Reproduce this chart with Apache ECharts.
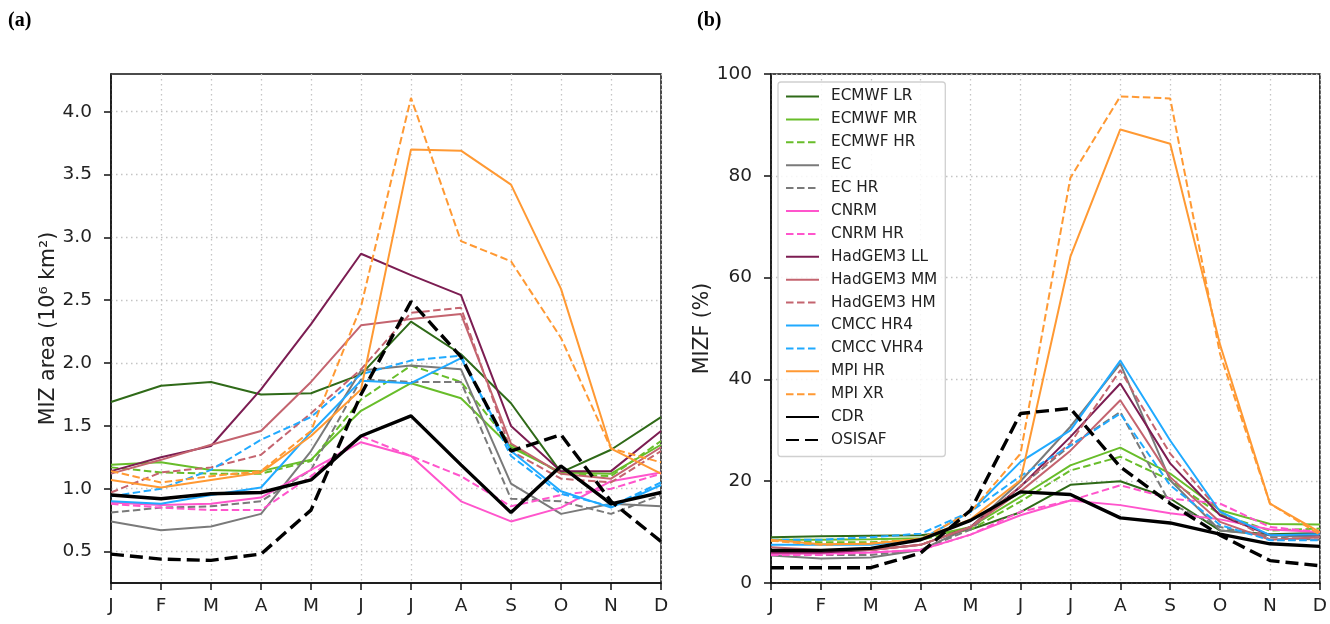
<!DOCTYPE html>
<html>
<head>
<meta charset="utf-8">
<title>MIZ area / MIZF</title>
<script src="https://cdn.jsdelivr.net/npm/echarts@6/dist/echarts.min.js"></script>
<style>
html, body { margin: 0; padding: 0; background: #fff; }
#chart { width: 1330px; height: 624px; }
</style>
</head>
<body>
<div id="chart"></div>
<script>
// month letters on the x axis (index 0..11)
var months = ['J', 'F', 'M', 'A', 'M', 'J', 'J', 'A', 'S', 'O', 'N', 'D'];
var areaTicks = [0.5, 1.0, 1.5, 2.0, 2.5, 3.0, 3.5, 4.0];

// (a) MIZ area, 10^6 km2
var areaEcmwfLR  = [1.69, 1.82, 1.85, 1.75, 1.76, 1.91, 2.33, 2.07, 1.68, 1.13, 1.31, 1.57];
var areaEcmwfMR  = [1.19, 1.21, 1.15, 1.14, 1.23, 1.62, 1.84, 1.72, 1.33, 1.13, 1.12, 1.35];
var areaEcmwfHR  = [1.17, 1.13, 1.12, 1.12, 1.22, 1.71, 1.98, 1.85, 1.35, 1.12, 1.10, 1.38];
var areaEC       = [0.74, 0.67, 0.70, 0.80, 1.30, 1.94, 1.98, 1.95, 1.04, 0.80, 0.88, 0.86];
var areaECHR     = [0.81, 0.85, 0.86, 0.90, 1.15, 1.87, 1.85, 1.85, 0.92, 0.90, 0.80, 0.95];
var areaCNRM     = [0.89, 0.87, 0.88, 0.93, 1.15, 1.37, 1.26, 0.90, 0.74, 0.85, 1.06, 1.13];
var areaCNRMHR   = [0.88, 0.85, 0.83, 0.83, 1.10, 1.42, 1.26, 1.10, 0.86, 0.95, 1.00, 1.12];
var areaHadLL    = [1.14, 1.25, 1.34, 1.79, 2.31, 2.87, 2.70, 2.54, 1.50, 1.14, 1.14, 1.46];
var areaHadMM    = [1.12, 1.23, 1.35, 1.46, 1.85, 2.30, 2.35, 2.39, 1.36, 1.12, 1.08, 1.33];
var areaHadHM    = [0.97, 1.13, 1.17, 1.27, 1.60, 1.95, 2.40, 2.44, 1.30, 1.08, 1.05, 1.30];
var areaCmccHR4  = [0.90, 0.88, 0.95, 1.01, 1.45, 1.86, 1.84, 2.04, 1.30, 0.98, 0.85, 1.03];
var areaCmccVHR4 = [0.94, 1.00, 1.15, 1.39, 1.57, 1.91, 2.02, 2.06, 1.26, 0.96, 0.86, 1.05];
var areaMpiHR    = [1.07, 1.01, 1.07, 1.13, 1.42, 1.79, 3.70, 3.69, 3.42, 2.59, 1.32, 1.12];
var areaMpiXR    = [1.14, 1.05, 1.10, 1.14, 1.46, 2.45, 4.11, 2.97, 2.81, 2.20, 1.32, 1.21];
var areaCDR      = [0.95, 0.92, 0.96, 0.97, 1.07, 1.42, 1.58, 1.19, 0.81, 1.18, 0.88, 0.97];
var areaOSISAF   = [0.48, 0.44, 0.43, 0.48, 0.83, 1.75, 2.49, 2.05, 1.30, 1.43, 0.90, 0.58];

// (b) MIZF, %
var mizfEcmwfLR  = [9.0, 9.2, 9.3, 9.4, 10.5, 13.9, 19.3, 20.0, 16.6, 10.3, 9.6, 9.8];
var mizfEcmwfMR  = [8.5, 8.5, 8.6, 8.8, 11.0, 16.9, 23.1, 26.6, 21.5, 14.3, 11.6, 11.5];
var mizfEcmwfHR  = [8.3, 8.0, 8.0, 8.5, 10.5, 16.0, 22.1, 24.8, 20.2, 13.5, 10.3, 10.7];
var mizfEC       = [5.4, 4.8, 5.0, 6.5, 11.0, 20.0, 30.7, 43.1, 20.2, 10.3, 9.4, 9.0];
var mizfECHR     = [6.0, 5.5, 5.5, 6.5, 10.5, 19.0, 27.0, 33.6, 15.6, 11.0, 9.0, 8.5];
var mizfCNRM     = [5.7, 5.8, 6.0, 6.5, 9.5, 13.3, 16.2, 15.3, 13.7, 12.5, 10.5, 10.0];
var mizfCNRMHR   = [5.5, 5.5, 6.0, 6.5, 9.5, 14.0, 16.2, 19.2, 16.6, 15.6, 11.0, 10.0];
var mizfHadLL    = [6.0, 6.0, 6.5, 7.5, 11.0, 18.9, 28.7, 39.2, 23.5, 13.3, 9.4, 9.5];
var mizfHadMM    = [7.0, 6.5, 6.5, 7.5, 11.0, 18.0, 26.0, 35.9, 20.8, 12.0, 8.5, 9.0];
var mizfHadHM    = [6.5, 6.5, 6.5, 7.5, 11.0, 19.0, 27.5, 41.8, 25.4, 14.0, 8.5, 8.5];
var mizfCmccHR4  = [7.5, 7.5, 7.5, 8.5, 14.0, 23.8, 30.0, 43.7, 28.0, 14.0, 9.4, 9.6];
var mizfCmccVHR4 = [8.5, 8.5, 9.0, 9.7, 14.0, 21.0, 27.0, 33.3, 19.2, 11.4, 8.4, 8.4];
var mizfMpiHR    = [8.5, 7.6, 7.7, 8.7, 12.5, 20.2, 64.1, 89.1, 86.3, 46.8, 15.6, 10.0];
var mizfMpiXR    = [8.3, 7.5, 7.8, 8.6, 14.0, 25.4, 79.6, 95.6, 95.2, 45.0, 15.6, 9.5];
var mizfCDR      = [6.4, 6.4, 6.8, 8.5, 12.3, 17.9, 17.4, 12.8, 11.8, 9.6, 7.7, 7.2];
var mizfOSISAF   = [3.0, 3.0, 3.0, 5.9, 14.3, 33.3, 34.3, 22.8, 15.6, 9.4, 4.4, 3.4];

var FONT = 'DejaVu Sans';

// line styles per model
var models = [
	{name: 'ECMWF LR',   color: '#2f6a18', dash: false, area: areaEcmwfLR,  mizf: mizfEcmwfLR},
	{name: 'ECMWF MR',   color: '#68bd2a', dash: false, area: areaEcmwfMR,  mizf: mizfEcmwfMR},
	{name: 'ECMWF HR',   color: '#68bd2a', dash: true,  area: areaEcmwfHR,  mizf: mizfEcmwfHR},
	{name: 'EC',         color: '#7a7a7a', dash: false, area: areaEC,       mizf: mizfEC},
	{name: 'EC HR',      color: '#7a7a7a', dash: true,  area: areaECHR,     mizf: mizfECHR},
	{name: 'CNRM',       color: '#ff55cc', dash: false, area: areaCNRM,     mizf: mizfCNRM},
	{name: 'CNRM HR',    color: '#ff55cc', dash: true,  area: areaCNRMHR,   mizf: mizfCNRMHR},
	{name: 'HadGEM3 LL', color: '#7c1d52', dash: false, area: areaHadLL,    mizf: mizfHadLL},
	{name: 'HadGEM3 MM', color: '#c4646f', dash: false, area: areaHadMM,    mizf: mizfHadMM},
	{name: 'HadGEM3 HM', color: '#c4646f', dash: true,  area: areaHadHM,    mizf: mizfHadHM},
	{name: 'CMCC HR4',   color: '#20aaff', dash: false, area: areaCmccHR4,  mizf: mizfCmccHR4},
	{name: 'CMCC VHR4',  color: '#20aaff', dash: true,  area: areaCmccVHR4, mizf: mizfCmccVHR4},
	{name: 'MPI HR',     color: '#ff9933', dash: false, area: areaMpiHR,    mizf: mizfMpiHR},
	{name: 'MPI XR',     color: '#ff9933', dash: true,  area: areaMpiXR,    mizf: mizfMpiXR},
	{name: 'CDR',        color: '#000000', dash: false, area: areaCDR,      mizf: mizfCDR,    obs: true},
	{name: 'OSISAF',     color: '#000000', dash: true,  area: areaOSISAF,   mizf: mizfOSISAF, obs: true}
];

function toPoints(arr) {
	return arr.map(function(v, i) { return [i, v]; });
}

function makeSeries(m, idx, key) {
	var w = m.obs ? 3.4 : 2;
	var dash = m.obs ? [13, 6] : [7.5, 3.5];
	return {
		name: m.name,
		type: 'line',
		xAxisIndex: idx,
		yAxisIndex: idx,
		data: toPoints(m[key]),
		symbol: 'none',
		showSymbol: false,
		silent: true,
		color: m.color,
		lineStyle: {color: m.color, width: w, type: m.dash ? dash : 'solid'}
	};
}

var series = [];
models.forEach(function(m) { series.push(makeSeries(m, 0, 'area')); });
models.forEach(function(m) { series.push(makeSeries(m, 1, 'mizf')); });

var splitStyle = {show: true, lineStyle: {color: '#c4c4c4', width: 1.3, type: [1.5, 3.5]}};
var tickStyle = {show: true, inside: false, length: 7, lineStyle: {color: '#111', width: 1.5}};
var labelStyle = {fontFamily: FONT, fontSize: 18.5, color: '#222'};

function makeX(idx) {
	return {
		type: 'value', gridIndex: idx, min: 0, max: 11, interval: 1,
		axisLine: {show: true, onZero: false, lineStyle: {color: '#111', width: 1.5}},
		axisTick: tickStyle,
		axisLabel: Object.assign({margin: 14, formatter: function(v) { return months[v]; }}, labelStyle),
		splitLine: splitStyle
	};
}

var option = {
	backgroundColor: '#fff',
	animation: false,
	title: [
		{text: '(a)', left: 8, top: 11, padding: 0,
			textStyle: {fontFamily: 'Liberation Serif', fontWeight: 'bold', fontSize: 20, color: '#000'}},
		{text: '(b)', left: 697, top: 11, padding: 0,
			textStyle: {fontFamily: 'Liberation Serif', fontWeight: 'bold', fontSize: 20, color: '#000'}}
	],
	grid: [
		{left: 111, top: 74, width: 550, height: 509, show: true, borderColor: '#111', borderWidth: 1.5, containLabel: false},
		{left: 771, top: 74, width: 550, height: 509, show: true, borderColor: '#111', borderWidth: 1.5, containLabel: false}
	],
	legend: {
		orient: 'vertical',
		left: 778, top: 82,
		padding: [7, 8, 9, 7],
		itemWidth: 33, itemHeight: 14, itemGap: 7.9,
		backgroundColor: 'rgba(255,255,255,0.85)',
		borderColor: '#d0d0d0', borderWidth: 1.3, borderRadius: 3,
		itemStyle: {opacity: 0},
		textStyle: {fontFamily: FONT, fontSize: 15.3, color: '#222', padding: [0, 0, 0, 7]},
		data: models.map(function(m) { return m.name; })
	},
	xAxis: [makeX(0), makeX(1)],
	yAxis: [
		{
			type: 'value', gridIndex: 0, min: 0.25, max: 4.3, splitNumber: 8,
			name: 'MIZ area (10\u2076 km\u00b2)', nameLocation: 'middle', nameGap: 50,
			nameTextStyle: {fontFamily: FONT, fontSize: 20.5, color: '#222'},
			axisLine: {show: true, onZero: false, lineStyle: {color: '#111', width: 1.5}},
			axisTick: Object.assign({customValues: areaTicks}, tickStyle),
			axisLabel: Object.assign({margin: 19, customValues: areaTicks,
				formatter: function(v) { return v.toFixed(1); }}, labelStyle),
			splitLine: splitStyle
		},
		{
			type: 'value', gridIndex: 1, min: 0, max: 100, interval: 20,
			name: 'MIZF (%)', nameLocation: 'middle', nameGap: 58,
			nameTextStyle: {fontFamily: FONT, fontSize: 20.5, color: '#222'},
			axisLine: {show: true, onZero: false, lineStyle: {color: '#111', width: 1.5}},
			axisTick: tickStyle,
			axisLabel: Object.assign({margin: 19}, labelStyle),
			splitLine: splitStyle
		}
	],
	series: series
};

var chart = echarts.init(document.getElementById('chart'), null, {renderer: 'canvas'});
chart.setOption(option);
</script>
</body>
</html>
